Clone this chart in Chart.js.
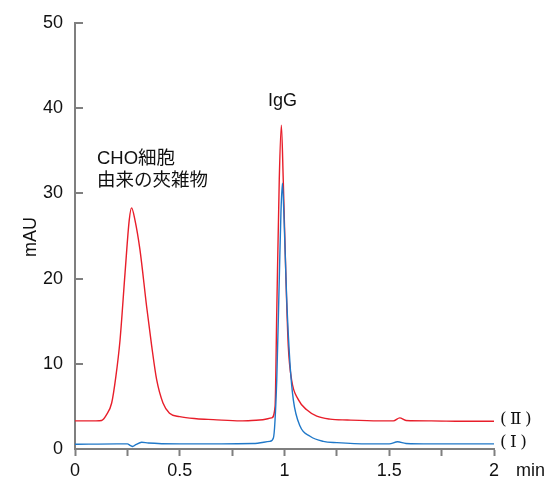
<!DOCTYPE html>
<html>
<head>
<meta charset="utf-8">
<script src="https://cdn.jsdelivr.net/npm/chart.js@4"></script>
<style>
  html, body { margin: 0; padding: 0; background: #fff; }
  canvas { display: block; }
</style>
</head>
<body>
<canvas id="chart" width="551" height="479"></canvas>
<script>
// Chromatogram data (min, mAU)
const timesI = [0, 0.2, 0.25, 0.265, 0.275, 0.29, 0.318, 0.35, 0.5, 0.7, 0.85, 0.93, 0.947, 0.963, 0.975, 0.983, 0.99, 0.997, 1.01, 1.026, 1.042, 1.074, 1.122, 1.185, 1.25, 1.4, 1.5, 1.54, 1.58, 1.7, 1.85, 2.0];
const valuesI = [0.55, 0.6, 0.6, 0.4, 0.3, 0.5, 0.8, 0.7, 0.6, 0.6, 0.65, 0.9, 1.3, 8.1, 19.9, 27.7, 31.2, 27.7, 17.9, 10.1, 5.8, 2.7, 1.5, 0.9, 0.75, 0.6, 0.6, 0.85, 0.65, 0.6, 0.6, 0.6];

const timesII = [0, 0.05, 0.1, 0.127, 0.15, 0.175, 0.195, 0.215, 0.239, 0.259, 0.27, 0.286, 0.31, 0.342, 0.366, 0.39, 0.42, 0.451, 0.5, 0.58, 0.66, 0.79, 0.88, 0.939, 0.955, 0.963, 0.975, 0.985, 0.994, 1.007, 1.018, 1.034, 1.066, 1.106, 1.154, 1.217, 1.3, 1.45, 1.52, 1.55, 1.58, 1.7, 1.85, 2.0];
const valuesII = [3.3, 3.3, 3.3, 3.35, 4.0, 5.4, 8.5, 12.8, 20.7, 26.9, 28.3, 26.9, 23.4, 16.7, 12.1, 8.1, 5.4, 4.2, 3.8, 3.55, 3.45, 3.3, 3.4, 3.65, 5.0, 16, 31.6, 38.0, 31.6, 19.9, 12.1, 8.1, 5.8, 4.6, 3.85, 3.5, 3.4, 3.3, 3.3, 3.65, 3.35, 3.3, 3.25, 3.25];

const xTickLabels = ['0', '0.5', '1', '1.5', '2'];
const yTicks = [0, 10, 20, 30, 40, 50];

const axisColor = '#7f7f7f';
const latinFont = '"Liberation Sans", Arial, sans-serif';
const jpFont = '"Liberation Sans", "Noto Sans CJK JP", sans-serif';

const toPoints = (ts, vs) => ts.map((t, i) => ({ x: t, y: vs[i] }));

// Inner y ticks and text notes
const notes = {
    id: 'notes',
    afterDraw(chart) {
        const c = chart.ctx;
        const x = chart.scales.x;
        const y = chart.scales.y;
        c.save();
        c.strokeStyle = axisColor;
        c.lineWidth = 2;
        yTicks.forEach(v => {
            if (v === 0) return;
            const py = Math.round(y.getPixelForValue(v));
            c.beginPath();
            c.moveTo(x.left, py);
            c.lineTo(x.left + 8, py);
            c.stroke();
        });

        c.fillStyle = '#111';
        c.textBaseline = 'middle';
        c.font = '18px ' + latinFont;
        c.textAlign = 'center';
        c.fillText('IgG', x.getPixelForValue(0.99), y.getPixelForValue(40.9));
        c.textAlign = 'left';
        c.fillText('min', x.right + 22, 471);

        c.font = '18.5px ' + jpFont;
        c.fillText('CHO細胞', 97, 159);
        c.fillText('由来の夾雑物', 97, 181);

        // series labels at the right end
        c.font = '17px "DejaVu Serif", serif';
        c.fillText('(\u2009Ⅱ\u2009)', x.right + 6, y.getPixelForValue(3.6) + 1);
        c.fillText('(\u2009Ⅰ\u2009)', x.right + 6, y.getPixelForValue(0.9) + 1);

        // y axis title
        c.font = '18px ' + latinFont;
        c.translate(31, 237);
        c.rotate(-Math.PI / 2);
        c.textAlign = 'center';
        c.fillText('mAU', 0, 0);
        c.restore();
    }
};

new Chart(document.querySelector('#chart'), {
    type: 'line',
    data: {
        datasets: [{
            label: '(I)',
            data: toPoints(timesI, valuesI),
            borderColor: 'rgb(32, 120, 200)',
            borderWidth: 1.4,
            pointRadius: 0,
            cubicInterpolationMode: 'monotone'
        }, {
            label: '(II)',
            data: toPoints(timesII, valuesII),
            borderColor: 'rgb(232, 30, 42)',
            borderWidth: 1.4,
            pointRadius: 0,
            cubicInterpolationMode: 'monotone'
        }]
    },
    options: {
        responsive: false,
        animation: false,
        layout: {
            padding: { left: 0, top: 23, right: 57, bottom: 0 }
        },
        scales: {
            x: {
                type: 'linear',
                min: 0,
                max: 2,
                afterFit: s => { s.height = 30; },
                ticks: {
                    stepSize: 0.25,
                    autoSkip: false,
                    maxRotation: 0,
                    padding: 4,
                    color: '#111',
                    font: { family: latinFont, size: 18 },
                    callback: function (value) {
                        const i = Math.round(value / 0.5);
                        return Math.abs(value - i * 0.5) < 1e-6 ? xTickLabels[i] : '';
                    }
                },
                grid: {
                    drawOnChartArea: false,
                    drawTicks: true,
                    tickLength: 7,
                    tickColor: axisColor,
                    tickWidth: 2
                },
                border: { color: axisColor, width: 2 }
            },
            y: {
                min: 0,
                max: 50,
                afterFit: s => { s.width = 75; },
                ticks: {
                    stepSize: 10,
                    padding: 12,
                    color: '#111',
                    font: { family: latinFont, size: 18 }
                },
                grid: {
                    drawOnChartArea: false,
                    drawTicks: false
                },
                border: { color: axisColor, width: 2 }
            }
        },
        plugins: {
            legend: { display: false },
            tooltip: { enabled: false }
        }
    },
    plugins: [notes]
});
</script>
</body>
</html>
